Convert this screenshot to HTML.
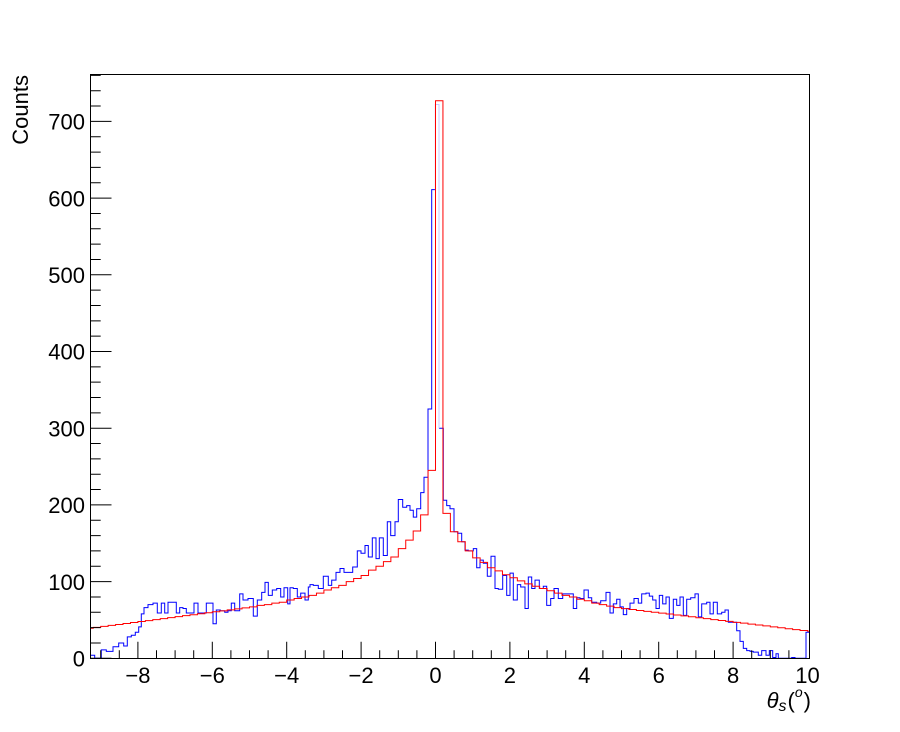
<!DOCTYPE html>
<html>
<head>
<meta charset="utf-8">
<style>
html,body{margin:0;padding:0;background:#fff;}
svg{display:block;}
text{font-family:"Liberation Sans",Arial,sans-serif;fill:#000;}
</style>
</head>
<body>
<svg width="900" height="732" viewBox="0 0 900 732" xmlns="http://www.w3.org/2000/svg">
<rect x="0" y="0" width="900" height="732" fill="#fff"/>

<!-- blue histogram -->
<g transform="translate(0,658.3) scale(1,-0.767)">
<path fill="none" stroke="#0000ff" stroke-width="1" vector-effect="non-scaling-stroke" d="M90,4 H94.7 V0 H101.3 V11 H106.3 V9 H113 V15 H118.7 V20 H123.7 V16 H127.3 V28 H131.3 V30 H135.3 V34 H138.7 V41 H141.3 V58 H144 V66 H148 V70 H153 V72 H157.3 V59 H161.3 V72 H164.7 V59 H168 V73 H176.3 V59 H179.7 V66 H183 V65 H186.3 V59 H194 V72 H198 V59 H206.3 V72 H213 V45 H216.3 V63 H220.3 V62 H224.7 V60 H228 V62 H231.3 V72 H234.7 V62 H239.7 V84 H243 V76 H248 V78 H253.3 V55 H257.3 V76 H261.7 V86 H265 V99 H268.3 V82 H272.3 V89 H276.7 V91 H280.7 V80 H284 V92 H287.7 V71 H290 V92 H293.3 V91 H297.3 V80 H300.7 V85 H305 V76 H308.3 V93 H310 V96 H313.3 V95 H318.3 V91 H323.3 V107 H328.3 V95 H331.7 V102 H336 V112 H340 V117 H344 V112 H352.7 V119 H357.3 V140 H361 V137 H365 V147 H368.3 V132 H372.3 V157 H376 V130 H379.3 V157 H383.3 V134 H387.3 V178 H390.7 V160 H395 V178 H398.3 V207 H402.7 V197 H406.7 V199 H410 V193 H413.3 V184 H416.7 V195 H420.7 V216 H424 V236 H428 V325 H431.7 V611 H435.3
M439,300 H443.3 V206 H446.7 V199 H450 V195 H454 V165 H457.7 V163 H461.7 V152 H465 V141 H468.3 V140 H473.3 V143 H476.7 V118 H480 V128 H483.3 V124 H487.3 V107 H491 V133 H495 V91 H498.3 V90 H502.7 V108 H506.7 V82 H510 V111 H513.3 V76 H517.3 V96 H520.7 V93 H525 V65 H528.3 V106 H531.7 V91 H535 V102 H539.3 V91 H543.3 V94 H546.7 V69 H550.7 V78 H554 V91 H558.3 V78 H562.7 V84 H573.3 V65 H576.7 V79 H580 V78 H584 V89 H588.3 V79 H591.7 V73 H596.7 V72 H600.7 V75 H606 V86 H610 V59 H613.3 V71 H616.7 V77 H620 V67 H623.3 V57 H626.7 V65 H630 V72 H634 V78 H638.3 V72 H641.7 V84 H646 V85 H649.3 V81 H652.7 V76 H656 V65 H659.3 V82 H662.7 V71 H666 V80 H669.3 V52 H673.3 V77 H676.7 V69 H680 V80 H683.3 V56 H686.7 V77 H690.7 V79 H695 V84 H698.3 V54 H701.7 V71 H706.7 V73 H710 V58 H713.3 V73 H717.3 V58 H721.7 V60 H725 V63 H728.3 V47 H736.7 V36 H740 V22 H743.3 V13 H746.7 V10 H750 V9 H753.3 V8 H758.3 V4 H761.7 V10 H766 V4 H769.3 V10 H772.7 V1 H776 V6 H778.3 V0 H791.7 V1 H795 V0 H806 V34 H810"/>
<path fill="none" stroke="#c8c8ff" stroke-width="1" vector-effect="non-scaling-stroke" d="M435.3,611 V722 H439 V300"/>
</g>

<!-- red histogram -->
<g transform="translate(0,658.3) scale(1,-0.767)">
<path fill="none" stroke="#ff0000" stroke-width="1" vector-effect="non-scaling-stroke" d="M90,39.1 H93.26 V40.3 H100.7 V41.6 H108.14 V42.9 H115.58 V44.1 H123.02 V45.4 H130.46 V46.7 H137.9 V48 H145.34 V49.2 H152.78 V50.5 H160.22 V51.8 H167.66 V53 H175.1 V54.3 H182.54 V55.6 H189.98 V56.8 H197.42 V58.1 H204.86 V59.4 H212.3 V60.7 H219.74 V61.9 H227.18 V63.2 H234.62 V64.5 H242.06 V65.7 H249.5 V67 H256.94 V69 H264.38 V70 H271.82 V72 H279.26 V73 H286.7 V76 H294.14 V78 H301.58 V80 H309.02 V82 H316.46 V85 H323.9 V89 H331.34 V92 H338.78 V95 H346.22 V100 H353.66 V104 H361.1 V108 H368.54 V115 H375.98 V120 H383.42 V126 H390.86 V132 H398.3 V143 H405.74 V154 H413.18 V166 H420.62 V187 H428.06 V245 H435.5 V727 H442.94 V189 H450.38 V165 H457.82 V152 H465.26 V140 H472.7 V131 H480.14 V125 H487.58 V118 H495.02 V114 H502.46 V109 H509.9 V105 H517.34 V101 H524.78 V97 H532.22 V94 H539.66 V91 H547.1 V88 H554.54 V85 H561.98 V82 H569.42 V80 H576.86 V77 H584.3 V75 H591.74 V72 H599.18 V70 H606.62 V68 H614.06 V66 H621.5 V64.8 H628.94 V63.6 H636.38 V62.4 H643.82 V61.2 H651.26 V60 H658.7 V58.9 H666.14 V57.7 H673.58 V56.5 H681.02 V55.3 H688.46 V54.1 H695.9 V52.9 H703.34 V51.7 H710.78 V50.5 H718.22 V49.3 H725.66 V48.1 H733.1 V46.9 H740.54 V45.8 H747.98 V44.6 H755.42 V43.4 H762.86 V42.2 H770.3 V41 H777.74 V39.8 H785.18 V38.6 H792.62 V37.4 H800.06 V36.2 H807.5 V35.5 H810"/>
</g>

<!-- y ticks -->
<g transform="translate(0,658.3) scale(1,-0.767)">
<path fill="none" stroke="#000" stroke-width="1" vector-effect="non-scaling-stroke" d="M90,0 H111.5 M90,100 H111.5 M90,200 H111.5 M90,300 H111.5 M90,400 H111.5 M90,500 H111.5 M90,600 H111.5 M90,700 H111.5
M90,20 H100.7 M90,40 H100.7 M90,60 H100.7 M90,80 H100.7
M90,120 H100.7 M90,140 H100.7 M90,160 H100.7 M90,180 H100.7
M90,220 H100.7 M90,240 H100.7 M90,260 H100.7 M90,280 H100.7
M90,320 H100.7 M90,340 H100.7 M90,360 H100.7 M90,380 H100.7
M90,420 H100.7 M90,440 H100.7 M90,460 H100.7 M90,480 H100.7
M90,520 H100.7 M90,540 H100.7 M90,560 H100.7 M90,580 H100.7
M90,620 H100.7 M90,640 H100.7 M90,660 H100.7 M90,680 H100.7
M90,720 H100.7 M90,740 H100.7 M90,760 H100.7"/>
</g>

<!-- x ticks -->
<g transform="translate(435.5,0) scale(37.2,1)">
<path fill="none" stroke="#000" stroke-width="1" vector-effect="non-scaling-stroke" d="M-8,658.5 V641.8 M-6,658.5 V641.8 M-4,658.5 V641.8 M-2,658.5 V641.8 M0,658.5 V641.8 M2,658.5 V641.8 M4,658.5 V641.8 M6,658.5 V641.8 M8,658.5 V641.8
M-9,658.5 V650.2 M-8.5,658.5 V650.2 M-7.5,658.5 V650.2 M-7,658.5 V650.2 M-6.5,658.5 V650.2 M-5.5,658.5 V650.2 M-5,658.5 V650.2 M-4.5,658.5 V650.2 M-3.5,658.5 V650.2 M-3,658.5 V650.2 M-2.5,658.5 V650.2 M-1.5,658.5 V650.2 M-1,658.5 V650.2 M-0.5,658.5 V650.2 M0.5,658.5 V650.2 M1,658.5 V650.2 M1.5,658.5 V650.2 M2.5,658.5 V650.2 M3,658.5 V650.2 M3.5,658.5 V650.2 M4.5,658.5 V650.2 M5,658.5 V650.2 M5.5,658.5 V650.2 M6.5,658.5 V650.2 M7,658.5 V650.2 M7.5,658.5 V650.2 M8.5,658.5 V650.2 M9,658.5 V650.2 M9.5,658.5 V650.2"/>
</g>

<!-- frame -->
<rect x="90.5" y="74.5" width="719" height="584" fill="none" stroke="#000" stroke-width="1"/>

<!-- y labels -->
<g font-size="22" text-anchor="end">
<text x="85" y="666.5">0</text>
<text x="85" y="589.8">100</text>
<text x="85" y="513.1">200</text>
<text x="85" y="436.4">300</text>
<text x="85" y="359.7">400</text>
<text x="85" y="283">500</text>
<text x="85" y="206.3">600</text>
<text x="85" y="129.6">700</text>
</g>

<!-- x labels -->
<g font-size="22" text-anchor="middle">
<text x="137.9" y="683">−8</text>
<text x="212.3" y="683">−6</text>
<text x="286.7" y="683">−4</text>
<text x="361.1" y="683">−2</text>
<text x="435.5" y="683">0</text>
<text x="509.9" y="683">2</text>
<text x="584.3" y="683">4</text>
<text x="658.7" y="683">6</text>
<text x="733.1" y="683">8</text>
<text x="807.5" y="683">10</text>
</g>

<!-- axis titles -->
<text transform="translate(28,75) rotate(-90)" font-size="22" text-anchor="end">Counts</text>
<text x="811" y="708" font-size="22" text-anchor="end"><tspan font-style="italic">θ</tspan><tspan font-style="italic" font-size="16" dy="3">s</tspan><tspan dy="-3" dx="1">(</tspan><tspan font-style="italic" font-size="14" dy="-11">o</tspan><tspan dy="11" dx="1">)</tspan></text>
</svg>
</body>
</html>
